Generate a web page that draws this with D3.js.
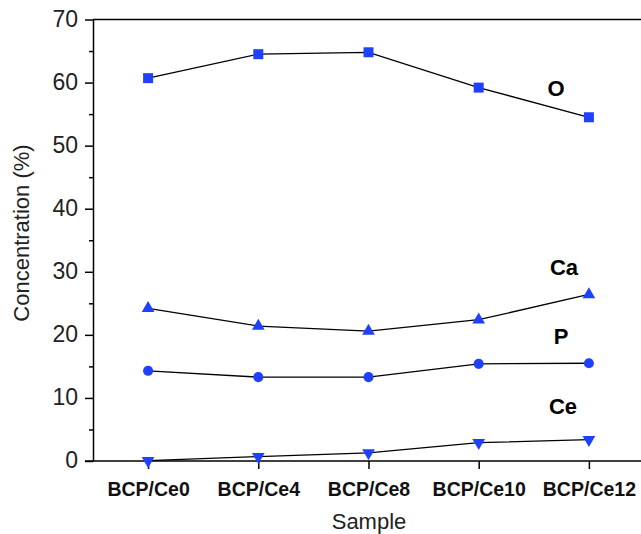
<!DOCTYPE html>
<html>
<head>
<meta charset="utf-8">
<script src="https://cdn.jsdelivr.net/npm/d3@7"></script>
<style>
  body { margin: 0; background: #fff; }
  text { font-family: "Liberation Sans", Arial, sans-serif; }
</style>
</head>
<body>
<div id="chart"></div>
<script>
var samples = ["BCP/Ce0", "BCP/Ce4", "BCP/Ce8", "BCP/Ce10", "BCP/Ce12"];
var oValues = [60.7, 64.5, 64.8, 59.2, 54.5];
var caValues = [24.2, 21.4, 20.6, 22.4, 26.4];
var pValues = [14.3, 13.3, 13.3, 15.4, 15.5];
var ceValues = [0.05, 0.7, 1.3, 2.9, 3.4];
var yTicks = [0, 10, 20, 30, 40, 50, 60, 70];

var series = [
    { name: "O", values: oValues, symbol: d3.symbolSquare, rot: 0, size: 100, lx: 556, ly: 88 },
    { name: "Ca", values: caValues, symbol: d3.symbolTriangle, rot: 0, size: 70, lx: 564, ly: 267 },
    { name: "P", values: pValues, symbol: d3.symbolCircle, rot: 0, size: 80, lx: 561, ly: 336 },
    { name: "Ce", values: ceValues, symbol: d3.symbolTriangle, rot: 180, size: 70, lx: 563, ly: 406 }
];

var vWidth = 641, vHeight = 534;
var mLeft = 93, mRight = 644, mTop = 19.5, mBottom = 461;
var blue = "#1f40ff";

var svg = d3.select("#chart").append("svg")
    .attr("width", vWidth)
    .attr("height", vHeight);

var x = d3.scalePoint().domain(samples).range([mLeft, mRight]).padding(0.5);
var y = d3.scaleLinear().domain([0, 70]).range([mBottom, mTop]);

// top frame line
svg.append("line")
    .attr("x1", mLeft).attr("x2", mRight)
    .attr("y1", mTop).attr("y2", mTop)
    .attr("stroke", "#000").attr("stroke-width", 1.5);

// y axis, major + minor ticks
var yAxis = svg.append("g")
    .attr("transform", "translate(" + mLeft + ",0)")
    .call(d3.axisLeft(y).tickValues(yTicks).tickSize(8).tickSizeOuter(0).tickPadding(7));
svg.append("g")
    .attr("transform", "translate(" + mLeft + ",0)")
    .call(d3.axisLeft(y).tickValues(d3.range(5, 70, 10)).tickSize(4).tickFormat("").tickSizeOuter(0))
    .select(".domain").remove();
yAxis.selectAll("text").style("font-size", "23px").attr("fill", "#222").attr("dy", "0.3em");

// x axis
var xAxis = svg.append("g")
    .attr("transform", "translate(0," + mBottom + ")")
    .call(d3.axisBottom(x).tickSize(8).tickSizeOuter(0).tickPadding(13));
xAxis.select(".domain").attr("d", "M" + (mLeft - 8) + ",0H" + mRight);
xAxis.selectAll("text").style("font-size", "19.5px").style("font-weight", "bold").attr("fill", "#111");

svg.selectAll(".domain, .tick line").attr("stroke", "#000").attr("stroke-width", 1.5);

var line = d3.line()
    .x(function (d, i) { return x(samples[i]); })
    .y(function (d) { return y(d); });

series.forEach(function (s) {
    svg.append("path")
        .datum(s.values)
        .attr("d", line)
        .attr("fill", "none")
        .attr("stroke", "#000")
        .attr("stroke-width", 1.3);

    svg.selectAll(null)
        .data(s.values)
        .enter().append("path")
        .attr("d", d3.symbol().type(s.symbol).size(s.size))
        .attr("transform", function (d, i) {
            return "translate(" + x(samples[i]) + "," + y(d) + ") rotate(" + s.rot + ")";
        })
        .attr("fill", blue);

    svg.append("text")
        .attr("x", s.lx).attr("y", s.ly)
        .attr("text-anchor", "middle")
        .attr("dy", "0.35em")
        .style("font-size", "22px")
        .style("font-weight", "bold")
        .text(s.name);
});

// axis titles
svg.append("text")
    .attr("x", 369).attr("y", 529)
    .attr("text-anchor", "middle")
    .style("font-size", "22px")
    .attr("fill", "#222")
    .text("Sample");

svg.append("text")
    .attr("transform", "translate(29,233) rotate(-90)")
    .attr("text-anchor", "middle")
    .style("font-size", "22px")
    .attr("fill", "#222")
    .text("Concentration (%)");
</script>
</body>
</html>
